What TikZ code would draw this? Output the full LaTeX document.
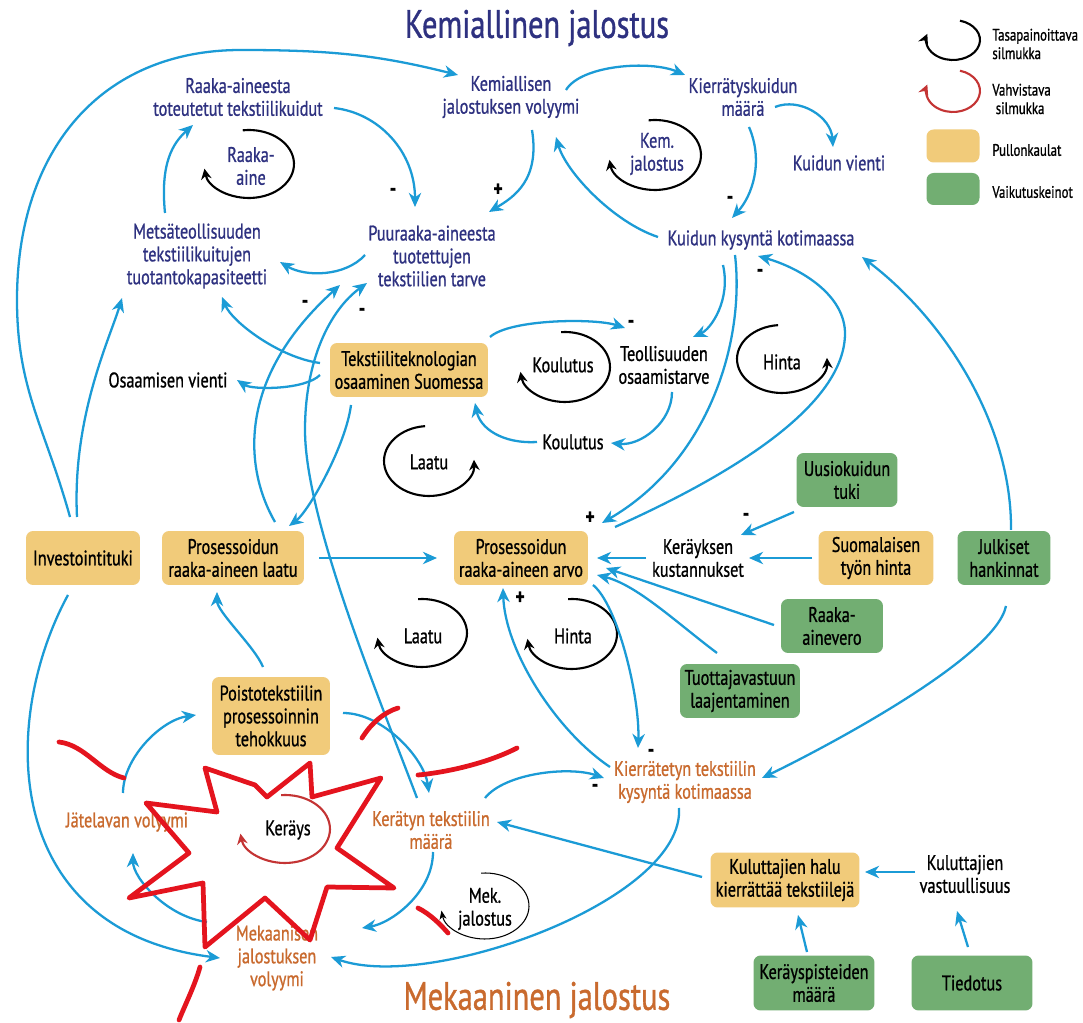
\documentclass[tikz,border=0pt]{standalone}
\usepackage{fontspec}
\setmainfont{PT Sans}[FakeStretch=0.77,FakeBold=0.9]
\usetikzlibrary{arrows.meta,calc}
\definecolor{navy}{RGB}{46,49,128}
\definecolor{orangeT}{RGB}{201,106,46}
\definecolor{blueA}{RGB}{27,155,214}
\definecolor{yellowB}{RGB}{241,203,122}
\definecolor{greenB}{RGB}{114,174,114}
\definecolor{redL}{RGB}{196,52,52}
\definecolor{redS}{RGB}{228,20,30}
\newcommand\bodyF{\fontsize{12}{13}\selectfont}
\tikzset{
 base/.style={font=\bodyF, align=center, inner sep=1pt},
 chem/.style={base, text=navy},
 mech/.style={base, text=orangeT},
 blk/.style={base, text=black},
 ybox/.style={base, fill=yellowB, rounded corners=4pt, minimum height=1.08cm},
 gbox/.style={base, fill=greenB, rounded corners=4pt, minimum height=1.08cm},
 conn/.style={draw=blueA, line width=1.3pt, -{Stealth[length=8pt,width=7pt,inset=2.5pt]}},
 loopk/.style={draw=black, line width=1.2pt, -{Stealth[length=6pt,width=6pt,inset=2pt]}},
 loopr/.style={draw=redL, line width=1.2pt, -{Stealth[length=6pt,width=6pt,inset=2pt]}},
 loopthin/.style={draw=black, line width=0.6pt, -{Stealth[length=5pt,width=4pt,inset=1.5pt]}},
 sgn/.style={font=\fontsize{13}{13}\selectfont\bfseries, inner sep=0pt},
 ttl/.style={font=\fontsize{22.5}{24}\selectfont, inner sep=0pt},
 lgd/.style={font=\fontsize{9.5}{10.5}\selectfont, align=left, anchor=west, inner sep=0pt},
 scrib/.style={draw=redS, line width=2.7pt, line cap=round, line join=round},
}
\begin{document}
\begin{tikzpicture}[x=0.02cm,y=-0.02cm]
\useasboundingbox[fill=white] (0,0) rectangle (1083,1023);

% titles
\node[ttl, text=navy] (tK) at (537,28) {Kemiallinen jalostus};
\node[ttl, text=orangeT] (tM) at (537,1000) {Mekaaninen jalostus};

% legend
\coordinate (lgK) at (953,40);
\coordinate (lgR) at (953,91);
\draw[loopk] ($(lgK)+(75:0.54cm and 0.4cm)$) arc[start angle=75,end angle=-198,x radius=0.54cm,y radius=0.4cm];
\draw[loopr] ($(lgR)+(75:0.54cm and 0.42cm)$) arc[start angle=75,end angle=-198,x radius=0.54cm,y radius=0.42cm];
\node[lgd] (lgT1) at (992,44) {Tasapainoittava\\silmukka};
\node[lgd] (lgT2) at (992,99) {Vahvistava\\\ silmukka};
\node[fill=yellowB, rounded corners=4pt, minimum width=1.06cm, minimum height=0.66cm, inner sep=0pt] (lgY) at (953,146) {};
\node[fill=greenB, rounded corners=4pt, minimum width=1.06cm, minimum height=0.64cm, inner sep=0pt] (lgG) at (953,189) {};
\node[lgd] (lgT3) at (992,150) {Pullonkaulat};
\node[lgd] (lgT4) at (992,192) {Vaikutuskeinot};

% chemical nodes
\node[chem] (nA) at (238,97) {Raaka-aineesta\\toteutetut tekstiilikuidut};
\node[chem] (nB) at (511,97) {Kemiallisen\\jalostuksen volyymi};
\node[chem] (nC) at (743,97) {Kierrätyskuidun\\määrä};
\node[chem] (nD) at (839,163) {Kuidun vienti};
\node[chem] (nE) at (761,240) {Kuidun kysyntä kotimaassa};
\node[chem] (nF) at (197,256) {Metsäteollisuuden\\tekstiilikuitujen\\tuotantokapasiteetti};
\node[chem] (nG) at (432,256) {Puuraaka-aineesta\\tuotettujen\\tekstiilien tarve};

% middle nodes
\node[ybox, minimum width=3.16cm] (nH) at (409,370) {Tekstiiliteknologian\\osaaminen Suomessa};
\node[blk] (nI) at (168,380) {Osaamisen vienti};
\node[blk] (nJ) at (664,365) {Teollisuuden\\osaamistarve};
\node[blk] (nK) at (573,442) {Koulutus};
\node[ybox, minimum width=2.28cm] (nL) at (83,558) {Investointituki};
\node[ybox, minimum width=2.84cm] (nM) at (233,558) {Prosessoidun\\raaka-aineen laatu};
\node[ybox, minimum width=2.68cm] (nN) at (521,558) {Prosessoidun\\raaka-aineen arvo};
\node[blk] (nO) at (698,558) {Keräyksen\\kustannukset};
\node[gbox, minimum width=2.02cm] (nP) at (847,480) {Uusiokuidun\\tuki};
\node[ybox, minimum width=2.3cm] (nQ) at (876,558) {Suomalaisen\\työn hinta};
\node[gbox, minimum width=1.86cm] (nR) at (1004,558) {Julkiset\\hankinnat};
\node[gbox, minimum width=2.04cm] (nS) at (832,626) {Raaka-\\ainevero};
\node[gbox, minimum width=2.4cm] (nT) at (740,691) {Tuottajavastuun\\laajentaminen};

% mechanical nodes
\node[ybox, minimum width=2.36cm, minimum height=1.56cm] (nU) at (271,716) {Poistotekstiilin\\prosessoinnin\\tehokkuus};
\node[mech] (nV) at (685,782) {Kierrätetyn tekstiilin\\kysyntä kotimaassa};
\node[mech] (nW) at (127,822) {Jätelavan volyymi};
\node[mech] (nX) at (431,830) {Kerätyn tekstiilin\\määrä};
\node[mech] (nY) at (277,958) {Mekaanisen\\jalostuksen\\volyymi};
\node[ybox, minimum width=2.98cm, minimum height=1.1cm] (nZ) at (785,880) {Kuluttajien halu\\kierrättää tekstiilejä};
\node[blk] (nAA) at (965,874) {Kuluttajien\\vastuullisuus};
\node[gbox, minimum width=2.42cm, minimum height=1.1cm] (nAB) at (814,983) {Keräyspisteiden\\määrä};
\node[gbox, minimum width=2.42cm, minimum height=1.1cm] (nAC) at (972,983) {Tiedotus};

% loops
\coordinate (lRa) at (249,164);
\coordinate (lKe) at (655,155);
\coordinate (lKo) at (565,367);
\coordinate (lHu) at (782,359);
\coordinate (lLu) at (429,461);
\coordinate (lLl) at (422,633);
\coordinate (lHl) at (572,634);
\coordinate (lKr) at (285,829);
\coordinate (lMk) at (485,906);
\draw[loopk] ($(lRa)+(98:0.9cm and 0.68cm)$) arc[start angle=98,end angle=-172,x radius=0.9cm,y radius=0.68cm];
\draw[loopk] ($(lKe)+(98:0.92cm and 0.7cm)$) arc[start angle=98,end angle=-172,x radius=0.92cm,y radius=0.7cm];
\draw[loopk] ($(lKo)+(95:0.9cm and 0.7cm)$) arc[start angle=95,end angle=-172,x radius=0.9cm,y radius=0.7cm];
\draw[loopk] ($(lHu)+(95:0.9cm and 0.68cm)$) arc[start angle=95,end angle=362,x radius=0.9cm,y radius=0.68cm];
\draw[loopk] ($(lLu)+(95:0.9cm and 0.7cm)$) arc[start angle=95,end angle=362,x radius=0.9cm,y radius=0.7cm];
\draw[loopk] ($(lLl)+(95:0.9cm and 0.68cm)$) arc[start angle=95,end angle=-172,x radius=0.9cm,y radius=0.68cm];
\draw[loopk] ($(lHl)+(95:0.9cm and 0.7cm)$) arc[start angle=95,end angle=-172,x radius=0.9cm,y radius=0.7cm];
\draw[loopr] ($(lKr)+(95:0.9cm and 0.68cm)$) arc[start angle=95,end angle=-172,x radius=0.9cm,y radius=0.68cm];
\draw[loopthin] ($(lMk)+(95:0.88cm and 0.66cm)$) arc[start angle=95,end angle=-172,x radius=0.88cm,y radius=0.66cm];
\node[chem] (tRa) at (251,166) {Raaka-\\aine};
\node[chem] (tKe) at (657,154) {Kem.\\jalostus};
\node[blk] (tKo) at (563,365) {Koulutus};
\node[blk] (tHu) at (782,362) {Hinta};
\node[blk] (tLu) at (429,462) {Laatu};
\node[blk] (tLl) at (423,636) {Laatu};
\node[blk] (tHl) at (573,636) {Hinta};
\node[blk] (tKr) at (288,830) {Keräys};
\node[blk] (tMk) at (485,909) {Mek.\\jalostus};

% connectors
\draw[conn] ($(nL)+(-13,-41)$) .. controls +(-25,-90) and +(0,90) .. (17,300) .. controls +(0,-150) and +(-140,0) .. (241,50) .. controls +(90,0) and +(-80,-20) .. ($(nB)+(-53,-22)$);
\draw[conn] ($(nL)+(-6,-41)$) .. controls +(-5,-100) and +(-12,40) .. ($(nF)+(-75,42)$);
\draw[conn] ($(nL)+(-15,37)$) .. controls +(-68,125) and +(-220,-28) .. ($(nY)+(-57,0)$);
\draw[conn] ($(nA)+(96,11)$) .. controls +(45,5) and +(0,-55) .. ($(nG)+(-17,-49)$);
\draw[conn] ($(nB)+(21,33)$) .. controls +(8,50) and +(25,-15) .. ($(nG)+(57,-44)$);
\draw[conn] ($(nF)+(-32,-43)$) .. controls +(-5,-50) and +(-20,18) .. ($(nA)+(-45,28)$);
\draw[conn] ($(nG)+(-67,-1)$) .. controls +(-20,22) and +(25,15) .. ($(nF)+(83,6)$);
\draw[conn] ($(nB)+(55,-7)$) .. controls +(15,-25) and +(-35,-15) .. ($(nC)+(-58,-22)$);
\draw[conn] ($(nC)+(32,10)$) .. controls +(25,-10) and +(-2,-30) .. ($(nD)+(-6,-16)$);
\draw[conn] ($(nC)+(6,30)$) .. controls +(15,35) and +(20,-22) .. ($(nE)+(-29,-22)$);
\draw[conn] ($(nE)+(-103,-3)$) .. controls +(-45,-15) and +(10,35) .. ($(nB)+(45,40)$);
\draw[conn] ($(nE)+(-38,25)$) .. controls +(8,35) and +(18,-8) .. ($(nJ)+(29,-28)$);
\draw[conn] ($(nE)+(-26,15)$) .. controls +(10,85) and +(108,-63) .. ($(nN)+(81,-35)$);
\draw[conn] ($(nN)+(94,-31)$) .. controls +(105,-47) and +(-2,75) .. (845,335) .. controls +(1,-40) and +(42,12) .. ($(nE)+(-3,16)$);
\draw[conn] ($(nR)+(7,-28)$) .. controls +(1,-105) and +(83,63) .. ($(nE)+(101,17)$);
\draw[conn] ($(nR)+(2,48)$) .. controls +(-11,54) and +(48,-23) .. ($(nV)+(77,-4)$);
\draw[conn] ($(nH)+(81,-33)$) .. controls +(20,-18) and +(-30,-10) .. ($(nJ)+(-39,-37)$);
\draw[conn] ($(nJ)+(8,27)$) .. controls +(0,30) and +(30,3) .. ($(nK)+(38,1)$);
\draw[conn] ($(nK)+(-36,0)$) .. controls +(-35,2) and +(5,25) .. ($(nH)+(66,33)$);
\draw[conn] ($(nH)+(-89,-7)$) .. controls +(-40,-5) and +(10,25) .. ($(nF)+(25,41)$);
\draw[conn] ($(nH)+(-89,5)$) .. controls +(-15,15) and +(15,10) .. ($(nI)+(69,0)$);
\draw[conn] ($(nH)+(-58,35)$) .. controls +(-5,40) and +(20,-15) .. ($(nM)+(56,-32)$);
\draw[conn] ($(nM)+(42,-36)$) .. controls +(-30,-52) and +(-105,95) .. ($(nG)+(-92,29)$);
\draw[conn] ($(nX)+(-14,-32)$) .. controls +(-37,-98) and +(0,90) .. (305,430) .. controls +(0,-70) and +(-37,27) .. ($(nG)+(-65,27)$);
\draw[conn] ($(nM)+(86,0)$) -- ($(nN)+(-84,0)$);
\draw[conn] ($(nU)+(-8,-49)$) .. controls +(-8,-20) and +(0,20) .. ($(nM)+(-16,34)$);
\draw[conn] ($(nW)+(-4,-29)$) .. controls +(0,-35) and +(-35,5) .. ($(nU)+(-75,-1)$);
\draw[conn] ($(nY)+(-70,-36)$) .. controls +(-40,-5) and +(0,25) .. ($(nW)+(6,31)$);
\draw[conn] ($(nX)+(2,22)$) .. controls +(0,40) and +(30,-5) .. ($(nY)+(85,-30)$);
\draw[conn] ($(nV)+(-6,26)$) .. controls +(6,92) and +(99,35) .. ($(nY)+(54,-1)$);
\draw[conn] ($(nU)+(72,-3)$) .. controls +(40,0) and +(-5,-35) .. ($(nX)+(-2,-37)$);
\draw[conn] ($(nX)+(54,-32)$) .. controls +(20,-25) and +(-35,-12) .. ($(nV)+(-81,-4)$);
\draw[conn] ($(nZ)+(-83,-3)$) -- ($(nX)+(66,-8)$);
\draw[conn] ($(nN)+(72,27)$) .. controls +(25,20) and +(2,-50) .. ($(nV)+(-47,-34)$);
\draw[conn] ($(nV)+(-75,-15)$) .. controls +(-55,-37) and +(2,62) .. ($(nN)+(-18,30)$);
\draw[conn] ($(nAA)+(-50,-2)$) -- ($(nZ)+(80,-8)$);
\draw[conn] ($(nAB)+(-7,-31)$) -- ($(nZ)+(13,35)$);
\draw[conn] ($(nAC)+(-4,-36)$) -- ($(nAA)+(-8,37)$);
\draw[conn] ($(nO)+(-52,0)$) -- ($(nN)+(76,0)$);
\draw[conn] ($(nQ)+(-64,0)$) -- ($(nO)+(51,0)$);
\draw[conn] ($(nP)+(-53,32)$) -- ($(nO)+(43,-23)$);
\draw[conn] ($(nS)+(-58,-1)$) -- ($(nN)+(85,10)$);
\draw[conn] ($(nT)+(-23,-38)$) .. controls +(-40,-30) and +(40,10) .. ($(nN)+(76,17)$);

% signs
\node[sgn] (s1) at (393,192) {-};
\node[sgn] (s2) at (498,190) {+};
\node[sgn] (s3) at (730,200) {-};
\node[sgn] (s4) at (760,273) {-};
\node[sgn] (s5) at (305,304) {-};
\node[sgn] (s6) at (362,312) {-};
\node[sgn] (s7) at (631,324) {-};
\node[sgn] (s8) at (590,518) {+};
\node[sgn] (s9) at (746,517) {-};
\node[sgn] (s10) at (520,598) {+};
\node[sgn] (s11) at (651,753) {-};
\node[sgn] (s12) at (595,788) {-};

% red scribbles
\draw[scrib] (205,768) -- (255,785) -- (267,797) -- (310,763) -- (312,797) -- (381,778) -- (337,848) -- (394,888) -- (327,887) -- (310,940) -- (265,898) -- (205,947) -- (203,883) -- (129,898) -- (189,853) -- (146,803) -- (217,812) -- cycle;
\draw[scrib] (59,742) .. controls (85,745) and (100,772) .. (124,778);
\draw[scrib] (362,738) .. controls (372,722) and (385,712) .. (398,708);
\draw[scrib] (418,775) .. controls (450,772) and (490,762) .. (517,748);
\draw[scrib] (200,967) .. controls (195,985) and (185,1005) .. (179,1020);
\draw[scrib] (418,908) .. controls (430,914) and (440,924) .. (448,933);
\end{tikzpicture}
\end{document}
